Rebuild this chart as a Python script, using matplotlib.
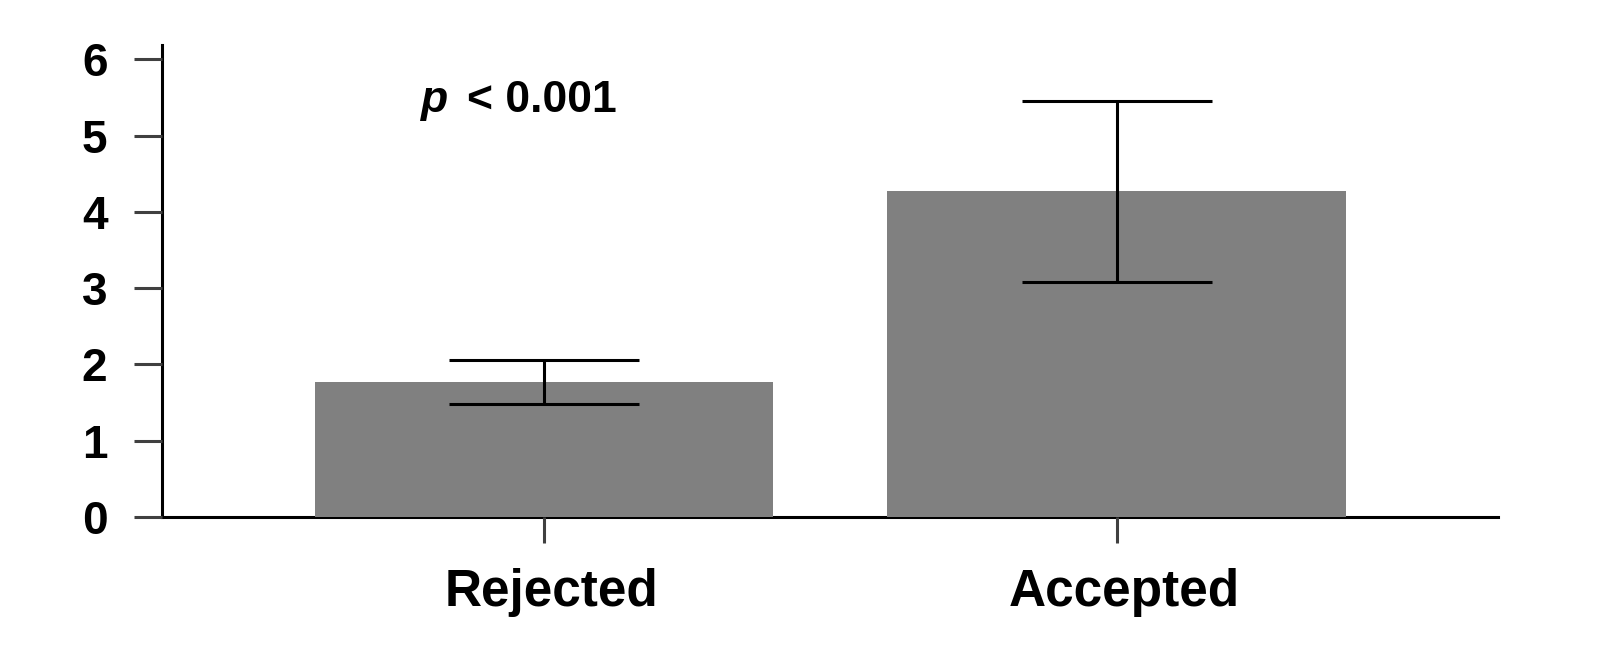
import numpy as np
import matplotlib.pyplot as plt
import matplotlib.transforms as mtransforms

plt.rcParams['font.family'] = ['Liberation Sans', 'DejaVu Sans']

categories = ['Rejected', 'Accepted']
means = [1.77, 4.27]
errors = [0.29, 1.19]

fig = plt.figure(figsize=(16, 6.61), dpi=100)
ax = fig.add_axes([0.101, 0.218, 0.835, 0.714])

x = np.arange(len(categories))
ax.bar(x, means, width=0.8, color='#808080', zorder=1)
ax.errorbar(x, means, yerr=errors, fmt='none', ecolor='black',
            elinewidth=2.2, capsize=95 * 0.72, capthick=2.2, zorder=3)

ax.set_xlim(-0.667, 1.665)
ax.set_ylim(0, 6.19)
ax.set_yticks(range(7))
ax.set_xticks(x)
ax.set_xticklabels(categories, fontsize=37, fontweight='bold')
ax.tick_params(axis='y', labelsize=33, length=20, width=2.2, color='#404040', pad=19)
ax.tick_params(axis='x', length=19, width=2.2, color='#404040', pad=18)
for lab in ax.get_yticklabels():
    lab.set_fontweight('bold')
# labels sit a little right of the ticks in the original
shift = mtransforms.ScaledTranslation(8 / 100, 0, fig.dpi_scale_trans)
for lab in ax.get_xticklabels():
    lab.set_transform(lab.get_transform() + shift)

for s in ['top', 'right']:
    ax.spines[s].set_visible(False)
for s in ['left', 'bottom']:
    ax.spines[s].set_linewidth(2.2)
    ax.spines[s].set_zorder(0)

# p-value note
ax.text(-0.214, 5.31, 'p', fontsize=32, fontweight='bold', fontstyle='italic')
ax.text(-0.134, 5.31, '< 0.001', fontsize=32, fontweight='bold')

fig.savefig('out.png', dpi=100)
